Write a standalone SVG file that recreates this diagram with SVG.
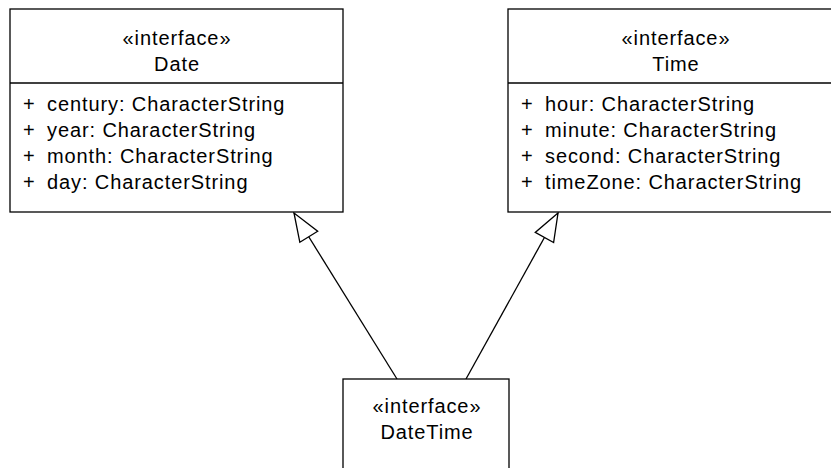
<svg xmlns="http://www.w3.org/2000/svg" width="831" height="468" viewBox="0 0 831 468">
  <style>
    .box { fill: #ffffff; stroke: #000000; stroke-width: 1.3; }
    .sep { stroke: #000000; stroke-width: 1.3; }
    text { font-family: "Liberation Sans", Arial, sans-serif; font-size: 20px; fill: #000000; letter-spacing: 0.9px; }
    .c { text-anchor: middle; }
    .edge { fill: none; stroke: #000000; stroke-width: 1.3; }
  </style>
  <defs>
    <!-- hollow generalization triangle -->
    <marker id="gen" markerUnits="userSpaceOnUse" markerWidth="32" markerHeight="24" viewBox="-30 -12 32 24" refX="0" refY="0" orient="auto">
      <path d="M0,0 L-28,-10.5 L-28,10.5 Z" fill="#ffffff" stroke="#000000" stroke-width="1.3"/>
    </marker>
  </defs>

  <g id="connectors">
    <line class="edge" x1="397" y1="379" x2="294" y2="213" marker-end="url(#gen)"/>
    <line class="edge" x1="466" y1="379" x2="558" y2="213" marker-end="url(#gen)"/>
  </g>

  <g id="Date">
    <rect class="box" x="10" y="9" width="333" height="203"/>
    <line class="sep" x1="10" y1="83" x2="343" y2="83"/>
    <text class="c" x="177" y="45">«interface»</text>
    <text class="c" x="177" y="71">Date</text>
    <text x="23" y="111">+</text><text x="47" y="111">century: CharacterString</text>
    <text x="23" y="137">+</text><text x="47" y="137">year: CharacterString</text>
    <text x="23" y="163">+</text><text x="47" y="163">month: CharacterString</text>
    <text x="23" y="189">+</text><text x="47" y="189">day: CharacterString</text>
  </g>

  <g id="Time">
    <rect class="box" x="508" y="9" width="334" height="203"/>
    <line class="sep" x1="508" y1="83" x2="842" y2="83"/>
    <text class="c" x="676" y="45">«interface»</text>
    <text class="c" x="676" y="71">Time</text>
    <text x="521" y="111">+</text><text x="545" y="111">hour: CharacterString</text>
    <text x="521" y="137">+</text><text x="545" y="137">minute: CharacterString</text>
    <text x="521" y="163">+</text><text x="545" y="163">second: CharacterString</text>
    <text x="521" y="189">+</text><text x="545" y="189">timeZone: CharacterString</text>
  </g>

  <g id="DateTime">
    <rect class="box" x="343" y="379" width="166" height="110"/>
    <text class="c" x="427" y="413">«interface»</text>
    <text class="c" x="427" y="439">DateTime</text>
  </g>
</svg>
